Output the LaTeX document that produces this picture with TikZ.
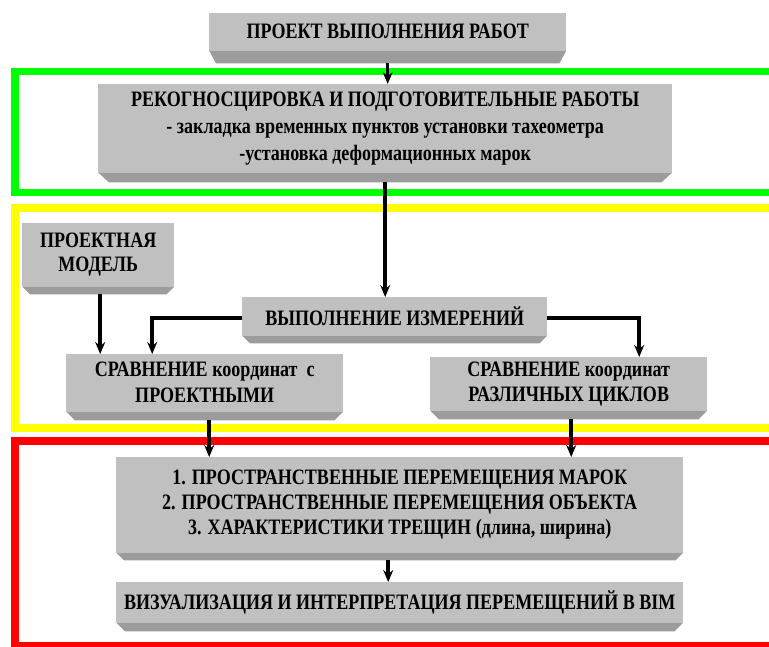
\documentclass[tikz,border=0pt]{standalone}
\usepackage{fontspec}
\setmainfont{Liberation Serif}[FakeStretch=0.82]
\usetikzlibrary{arrows.meta}
\definecolor{facegray}{HTML}{C0C0C0}
\definecolor{stripgray}{HTML}{9C9C9C}
\definecolor{frgreen}{HTML}{00FF00}
\definecolor{fryellow}{HTML}{FFFF00}
\definecolor{frred}{HTML}{FF0000}
% darker chamfered strip under a box: #1 node, #2 height, #3 inset
\newcommand\stripunder[3]{%
  \fill[stripgray] (#1.south west) -- (#1.south east)
    -- ([xshift=-#3pt,yshift=-#2pt]#1.south east)
    -- ([xshift=#3pt,yshift=-#2pt]#1.south west) -- cycle;}
\begin{document}
\begin{tikzpicture}[x=1pt,y=-1pt,
  face/.style={fill=facegray, inner sep=0pt, anchor=north west, align=center,
    font=\fontsize{22}{25}\selectfont\bfseries},
  frame/.style={line width=7.5pt},
  arr/.style={line width=3.5pt, -{Stealth[length=12pt,width=10pt,inset=4pt]}}]
\useasboundingbox (0,0) rectangle (769,646);

% coloured stage frames (open to the right)
\draw[frame, frgreen]  (15,71.5) rectangle (800,192.5);
\draw[frame, fryellow] (15,208) rectangle (800,428);
\draw[frame, frred]    (15,441) rectangle (800,645.5);

% boxes
\node[face, minimum width=357pt, minimum height=37pt] (top) at (209,13) {ПРОЕКТ ВЫПОЛНЕНИЯ РАБОТ};
\stripunder{top}{13}{7}
\node[face, minimum width=574pt, minimum height=88pt, font=\fontsize{22}{27}\selectfont\bfseries] (prep) at (98,84)
  {РЕКОГНОСЦИРОВКА И ПОДГОТОВИТЕЛЬНЫЕ РАБОТЫ\\- закладка временных пунктов установки тахеометра\\-установка деформационных марок};
\stripunder{prep}{10}{11}
\node[face, minimum width=152pt, minimum height=63pt, font=\fontsize{22}{23.5}\selectfont\bfseries] (pm) at (22,223) {ПРОЕКТНАЯ\\МОДЕЛЬ};
\stripunder{pm}{8}{8}
\node[face, minimum width=305pt, minimum height=38pt] (vyp) at (242,297) {ВЫПОЛНЕНИЕ ИЗМЕРЕНИЙ};
\stripunder{vyp}{8}{8}
\node[face, minimum width=277pt, minimum height=57pt, font=\fontsize{22}{26}\selectfont\bfseries] (s1) at (66,354) {СРАВНЕНИЕ координат\ \ с\\ПРОЕКТНЫМИ};
\stripunder{s1}{9}{9}
\node[face, minimum width=277pt, minimum height=53pt] (s2) at (430,357) {СРАВНЕНИЕ координат\\РАЗЛИЧНЫХ ЦИКЛОВ};
\stripunder{s2}{9}{9}
\node[face, minimum width=567pt, minimum height=95pt] (res) at (116,457)
  {1. ПРОСТРАНСТВЕННЫЕ ПЕРЕМЕЩЕНИЯ МАРОК\\2. ПРОСТРАНСТВЕННЫЕ ПЕРЕМЕЩЕНИЯ ОБЪЕКТА\\3. ХАРАКТЕРИСТИКИ ТРЕЩИН (длина, ширина)};
\stripunder{res}{8}{8}
\node[face, minimum width=567pt, minimum height=40pt] (viz) at (116,582) {ВИЗУАЛИЗАЦИЯ И ИНТЕРПРЕТАЦИЯ ПЕРЕМЕЩЕНИЙ В BIM};
\stripunder{viz}{9}{9}

% connectors
\coordinate (topo) at ([yshift=-13pt]top.south);
\coordinate (prepo) at ([yshift=-10pt]prep.south);
\coordinate (pmo) at ([xshift=2pt,yshift=-8pt]pm.south);
\coordinate (s1o) at ([xshift=4.5pt,yshift=-9pt]s1.south);
\coordinate (s2o) at ([xshift=2.5pt,yshift=-9pt]s2.south);
\coordinate (reso) at ([xshift=-11.5pt,yshift=-8pt]res.south);
\draw[arr] (topo) -- (topo |- prep.north);
\draw[arr] (prepo) -- (prepo |- vyp.north);
\draw[arr] (pmo) -- (pmo |- s1.north);
\draw[arr] ([yshift=-2pt]vyp.west) -| ([xshift=-52.5pt]s1.north);
\draw[arr] ([yshift=-2pt]vyp.east) -| ([xshift=70.5pt]s2.north);
\draw[arr] (s1o) -- (s1o |- res.north);
\draw[arr] (s2o) -- (s2o |- res.north);
\draw[arr] (reso) -- (reso |- viz.north);
\end{tikzpicture}
\end{document}
